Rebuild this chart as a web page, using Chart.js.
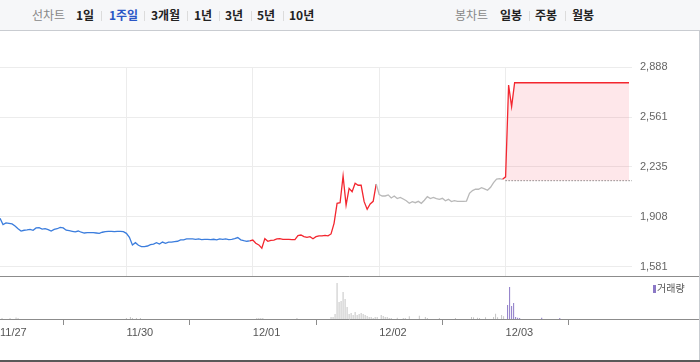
<!DOCTYPE html>
<html><head><meta charset="utf-8">
<script src="https://cdn.jsdelivr.net/npm/chart.js@4.4.1/dist/chart.umd.min.js"></script>
<style>
html,body{margin:0;padding:0;background:#fff;}
#wrap{position:relative;width:700px;height:362px;overflow:hidden;font-family:'Noto Sans CJK KR','Noto Sans',sans-serif;}
#hdr{position:absolute;left:0;top:0;width:700px;height:30px;background:#f6f7f9;border-bottom:1px solid #c9ccd1;}
.t{position:absolute;top:7px;font-size:12px;line-height:16px;white-space:nowrap;color:#222;font-weight:bold;}
.g{color:#888;font-weight:normal;}
.on{color:#2a56c6;}
.sep{position:absolute;top:11px;width:1px;height:10px;background:#dcdcdc;}
#rb{position:absolute;left:699px;top:30px;width:1px;height:332px;background:#c9ccd1;}
#bb{position:absolute;left:0;top:360px;width:700px;height:2px;background:#595959;}
canvas{position:absolute;left:0;}
#price{top:31px;}
#vol{top:276px;}
#lg{position:absolute;left:653px;top:285px;width:3px;height:8px;background:#8b78c6;}
#lgt{position:absolute;left:657px;top:281px;font-size:10px;line-height:14px;color:#555;}
</style></head>
<body>
<div id="wrap">
  <div id="hdr">
    <span class="t g" style="left:32px">선차트</span>
    <span class="t" style="left:76px">1일</span><span class="sep" style="left:101px"></span>
    <span class="t on" style="left:109px">1주일</span><span class="sep" style="left:144px"></span>
    <span class="t" style="left:151px">3개월</span><span class="sep" style="left:187px"></span>
    <span class="t" style="left:194px">1년</span><span class="sep" style="left:219px"></span>
    <span class="t" style="left:225px">3년</span><span class="sep" style="left:251px"></span>
    <span class="t" style="left:257px">5년</span><span class="sep" style="left:283px"></span>
    <span class="t" style="left:289px">10년</span>
    <span class="t g" style="left:455px">봉차트</span>
    <span class="t" style="left:500px">일봉</span><span class="sep" style="left:529px"></span>
    <span class="t" style="left:535px">주봉</span><span class="sep" style="left:565px"></span>
    <span class="t" style="left:572px">월봉</span>
  </div>
  <canvas id="price" width="699" height="245"></canvas>
  <canvas id="vol" width="699" height="86"></canvas>
  <div id="lg"></div><div id="lgt">거래량</div>
  <div id="rb"></div>
  <div id="bb"></div>
</div>
<script>
const DAYS = ['11/27','11/30','12/01','12/02','12/03'];
const Y_TICKS = [1581,1908,2235,2561,2888];
const PREV_CLOSE = 2145;

const PRICE_1127 = [1899,1858,1869,1866,1862,1849,1831,1816,1821,1823,1827,1821,1836,1838,
  1829,1831,1825,1816,1827,1831,1840,1836,1821,1818,1814,1810,1816,1808,
  1803,1805,1805,1805,1803,1801,1808,1812,1814,1814,1812,1814,1814,1812];
const PRICE_1130 = [1801,1775,1725,1740,1723,1714,1714,1718,1727,1731,1740,1731,1744,1736,
  1744,1744,1747,1749,1758,1758,1764,1764,1764,1762,1764,1760,1762,1762,
  1760,1762,1758,1764,1762,1764,1760,1762,1766,1773,1758,1753,1749,1751];
const PRICE_1201 = [1757,1736,1725,1703,1766,1749,1755,1757,1764,1766,1762,1762,1762,1760,
  1760,1786,1790,1779,1775,1779,1766,1779,1784,1784,1788,1784,1797,1866,
  1997,2001,2176,1986,2095,2073,2128,2115,2115,2008,1958,1993,2010,2123];
const PRICE_1202 = [2054,2045,2045,2052,2032,2045,2028,2036,2025,2014,1997,2008,2001,2010,
  1997,2017,2041,2028,2036,2028,2023,2030,2014,2023,2008,2014,2010,2010,
  2010,2012,2062,2080,2089,2089,2099,2091,2082,2102,2132,2156,2158,2154];
const PRICE_1203 = [2170,2770,2630,
  2785,2785,2785,2785,2785,2785,2785,2785,2785,2785,2785,2785,2785,
  2785,2785,2785,2785,2785,2785,2785,2785,2785,2785,2785,2785,2785,
  2785,2785,2785,2785,2785,2785,2785,2785,2785,2785,2785,2785,2785];

// volume, thousand shares
const VOL_1127 = [0,10,0,0,0,10,0,0,15,10,0,0,0,0,0,0,0,0,0,0,0,
  0,0,0,0,0,0,0,0,0,0,0,0,0,0,0,0,0,0,0,0,0,
  0,0,0,0,0,0,0,0,0,0,0,0,0,0,0,0,0,0,0,0,0];
const VOL_1130 = [10,0,20,10,0,10,0,10,0,0,0,0,0,0,0,0,0,0,0,0,0,
  0,0,0,0,0,0,0,0,0,0,0,0,0,0,0,0,0,0,0,0,0,
  0,0,0,0,0,0,0,0,0,0,0,0,0,0,0,0,0,0,0,0,0];
const VOL_1201 = [0,0,10,10,10,10,0,0,0,0,0,0,0,0,0,0,0,0,0,0,0,
  0,10,0,0,0,0,0,0,0,0,0,0,0,0,0,0,0,0,20,20,50,
  360,170,180,270,200,120,50,60,40,70,40,50,60,50,40,30,20,20,10,20,20];
const VOL_1202 = [0,40,30,20,20,10,10,0,0,13,0,0,10,10,0,27,0,0,0,0,33,
  0,0,20,10,0,0,0,0,0,10,0,0,0,0,0,0,0,10,0,0,0,
  0,0,0,0,20,17,0,13,10,0,0,17,0,0,0,20,53,17,0,40,27];
const VOL_1203 = [0,140,320,130,160,20,13,10,0,0,0,0,0,0,0,0,0,0,13,0,0,
  0,0,0,0,0,0,10,0,0,0,0,0,0,0,0,0,0,0,0,0,0,
  0,0,0,0,0,0,0,0,0,0,0,0,0,0,0,0,0,0,0,0,0];
const VOL_MAX = 430;

const PRICE_DAYS = [PRICE_1127, PRICE_1130, PRICE_1201, PRICE_1202, PRICE_1203];
const VOL_DAYS = [VOL_1127, VOL_1130, VOL_1201, VOL_1202, VOL_1203];

const LINE_COLORS = ['#3b7ddd','#3b7ddd','#f3262f','#b9b9b9','#f3262f'];
const LAST = DAYS.length - 1;

const pricePts = [], priceDay = [];
PRICE_DAYS.forEach((arr, d) => arr.forEach((v, i) => { pricePts.push({x: d + i / arr.length, y: v}); priceDay.push(d); }));
const fillPts = pricePts.filter((p, i) => priceDay[i] === LAST);
const dotted = [{x: LAST, y: PREV_CLOSE}, {x: DAYS.length, y: PREV_CLOSE}];

const volPts = [], volDay = [];
VOL_DAYS.forEach((arr, d) => arr.forEach((v, i) => {
  if (v > 0) { volPts.push({x: d + i / arr.length, y: v}); volDay.push(d); }
}));

Chart.defaults.font.family = "'Liberation Sans', Arial, sans-serif";
const noPad = s => { s.paddingTop = 0; s.paddingBottom = 0; s.paddingLeft = 0; s.paddingRight = 0; };

new Chart(document.getElementById('price'), {
  type: 'line',
  data: { datasets: [
    { data: pricePts, borderWidth: 1.3, pointRadius: 0, fill: false, borderColor: LINE_COLORS[0],
      segment: { borderColor: c => LINE_COLORS[priceDay[c.p1DataIndex]] } },
    { data: dotted, borderColor: '#555', borderWidth: 1, borderDash: [1, 2], pointRadius: 0, fill: false },
    { data: fillPts, borderWidth: 0, borderColor: 'rgba(0,0,0,0)', pointRadius: 0,
      fill: { value: PREV_CLOSE }, backgroundColor: 'rgba(244,40,60,0.11)' }
  ]},
  options: {
    responsive: false, animation: false, events: [],
    layout: { padding: { top: 36, left: 0, right: 0, bottom: 0 } },
    plugins: { legend: { display: false }, tooltip: { enabled: false } },
    scales: {
      x: { type: 'linear', min: 0, max: DAYS.length,
        afterBuildTicks: s => { s.ticks = DAYS.slice(1).map((_, i) => ({ value: i + 1 })); },
        ticks: { display: false }, grid: { color: '#ececec', drawTicks: false }, border: { display: false },
        afterFit: s => { s.height = 0; noPad(s); } },
      y: { position: 'right', min: 1522, max: 2888,
        afterBuildTicks: s => { s.ticks = Y_TICKS.map(v => ({ value: v })); },
        ticks: { padding: 8, color: '#666', font: { size: 11 }, callback: v => v.toLocaleString('en-US') },
        grid: { color: '#ececec', drawTicks: false }, border: { display: false },
        afterFit: s => { s.width = 67; noPad(s); } }
    }
  }
});

const frameLines = {
  id: 'frameLines',
  afterDraw(chart) {
    const c = chart.ctx, a = chart.chartArea;
    c.save(); c.strokeStyle = '#8c8c8c'; c.lineWidth = 1;
    c.beginPath();
    c.moveTo(0, a.top + 0.5); c.lineTo(chart.width, a.top + 0.5);
    c.moveTo(0, a.bottom + 0.5); c.lineTo(chart.width, a.bottom + 0.5);
    c.stroke(); c.restore();
  }
};

new Chart(document.getElementById('vol'), {
  type: 'bar',
  data: { datasets: [{ data: volPts, barThickness: 1, inflateAmount: 0, borderWidth: 0,
    backgroundColor: c => volDay[c.dataIndex] === LAST ? '#8b78c6' : '#c4c4c4' }] },
  options: {
    responsive: false, animation: false, events: [],
    layout: { padding: { top: 0, left: 0, right: 67, bottom: 0 } },
    plugins: { legend: { display: false }, tooltip: { enabled: false } },
    scales: {
      x: { type: 'linear', min: 0, max: DAYS.length, offset: false,
        afterBuildTicks: s => { s.ticks = DAYS.map((_, i) => ({ value: i })); },
        ticks: { align: 'start', color: '#555', font: { size: 11 }, padding: 1, maxRotation: 0,
          autoSkip: false, callback: (v) => DAYS[v] },
        grid: { drawOnChartArea: false, drawTicks: true, tickLength: 6, color: '#8c8c8c' },
        border: { display: false },
        afterFit: s => { s.height = 43; noPad(s); } },
      y: { display: false, min: 0, max: VOL_MAX }
    }
  },
  plugins: [frameLines]
});
</script>
</body></html>
